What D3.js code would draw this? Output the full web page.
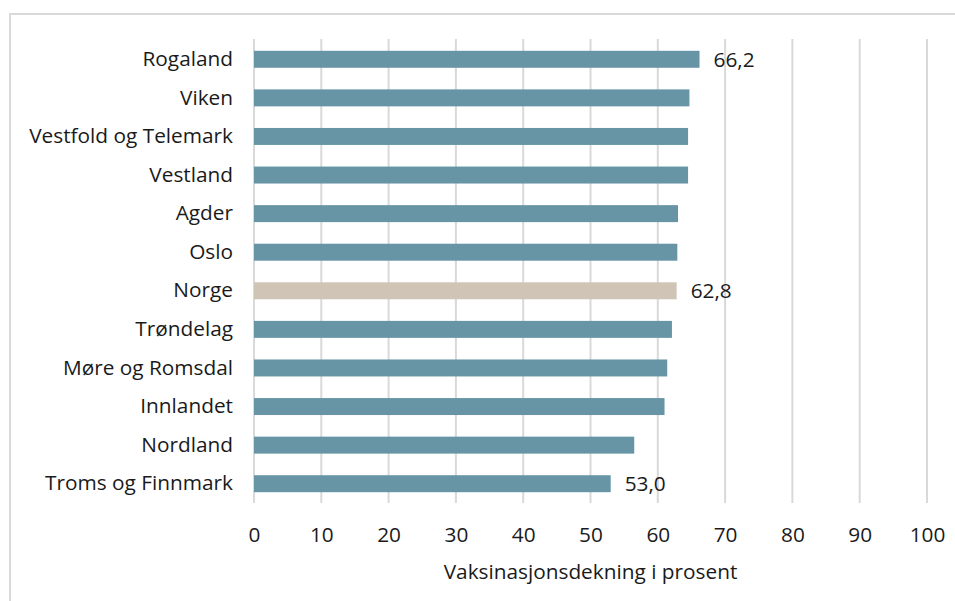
<!DOCTYPE html>
<html>
<head>
<meta charset="utf-8">
<script src="https://cdn.jsdelivr.net/npm/d3@7"></script>
<style>
  html, body { margin: 0; padding: 0; background: #fff; }
  svg { display: block; }
  text { font-family: "Open Sans", "Noto Sans", sans-serif; fill: #1a1a1a; }
</style>
</head>
<body>
<svg id="chart" width="955" height="601"></svg>
<script>
// Vaksinasjonsdekning per fylke (prosent)
const fylker = ["Rogaland", "Viken", "Vestfold og Telemark", "Vestland", "Agder", "Oslo",
  "Norge", "Trøndelag", "Møre og Romsdal", "Innlandet", "Nordland", "Troms og Finnmark"];
const dekning = [66.2, 64.7, 64.5, 64.5, 63.0, 62.9, 62.8, 62.1, 61.4, 61.0, 56.5, 53.0];
const visVerdi = ["Rogaland", "Norge", "Troms og Finnmark"];
const xTicks = [0, 10, 20, 30, 40, 50, 60, 70, 80, 90, 100];
const xTittel = "Vaksinasjonsdekning i prosent";

const rows = fylker.map((f, i) => ({ fylke: f, verdi: dekning[i] }));
const FONT = "'Open Sans', 'Noto Sans', sans-serif";
const FS = 20.8;

const svg = d3.select("#chart");
const plot = { left: 254, right: 927, top: 40, bottom: 503 };

// chart frame
svg.append("rect")
  .attr("x", 10).attr("y", 14)
  .attr("width", 1000).attr("height", 700)
  .attr("fill", "none").attr("stroke", "#d9d9d9").attr("stroke-width", 2);

const x = d3.scaleLinear().domain([0, 100]).range([plot.left, plot.right]);
const y = d3.scaleBand().domain(fylker).range([plot.top, plot.bottom])
  .paddingInner(0.56).paddingOuter(0.28);

// vertical gridlines
svg.append("g").selectAll("line").data(xTicks).join("line")
  .attr("x1", d => x(d)).attr("x2", d => x(d))
  .attr("y1", plot.top - 1).attr("y2", plot.bottom)
  .attr("stroke", "#d9d9d9").attr("stroke-width", 2);

// bars
svg.append("g").selectAll("rect").data(rows).join("rect")
  .attr("x", x(0))
  .attr("y", d => y(d.fylke))
  .attr("width", d => x(d.verdi) - x(0))
  .attr("height", y.bandwidth())
  .attr("fill", d => d.fylke === "Norge" ? "#cfc4b6" : "#6795a6");

// category labels
const yAxis = svg.append("g")
  .attr("transform", `translate(${plot.left},0)`)
  .call(d3.axisLeft(y).tickSize(0).tickPadding(21));
yAxis.select(".domain").remove();
yAxis.selectAll("text")
  .attr("font-size", FS)
  .style("font-family", FONT)
  .attr("fill", "#1a1a1a");

// value labels
const fmt = v => d3.format(".1f")(v).replace(".", ",");
svg.append("g").selectAll("text")
  .data(rows.filter(d => visVerdi.includes(d.fylke))).join("text")
  .attr("x", d => x(d.verdi) + 14)
  .attr("y", d => y(d.fylke) + y.bandwidth() / 2)
  .attr("dy", "0.35em")
  .attr("font-size", FS)
  .text(d => fmt(d.verdi));

// x tick labels
const xAxis = svg.append("g")
  .attr("transform", `translate(0,${plot.bottom})`)
  .call(d3.axisBottom(x).tickValues(xTicks).tickSize(0).tickPadding(24).tickFormat(d3.format("d")));
xAxis.select(".domain").remove();
xAxis.selectAll("text")
  .attr("font-size", FS)
  .style("font-family", FONT)
  .attr("fill", "#1a1a1a");

// x axis title
svg.append("text")
  .attr("x", (plot.left + plot.right) / 2)
  .attr("y", 572)
  .attr("dy", "0.35em")
  .attr("text-anchor", "middle")
  .attr("font-size", FS)
  .text(xTittel);
</script>
</body>
</html>
